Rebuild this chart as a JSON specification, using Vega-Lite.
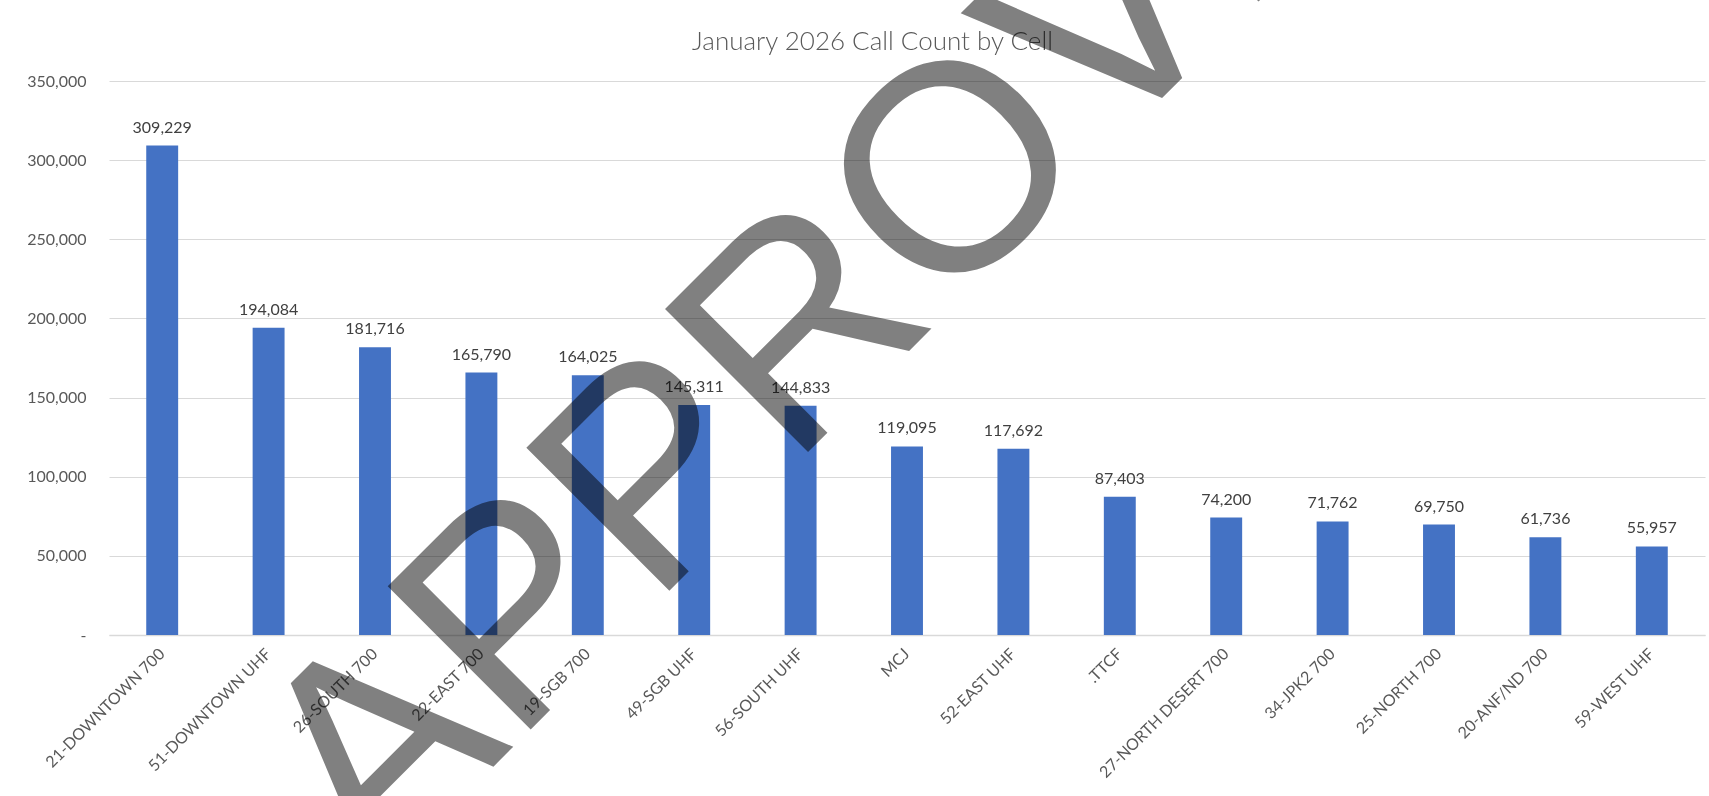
{
  "$schema": "https://vega.github.io/schema/vega-lite/v6.json",
  "width": 1596,
  "height": 554,
  "autosize": {"type": "none"},
  "padding": {"left": 109, "top": 81, "right": 4, "bottom": 161},
  "background": "#ffffff",
  "config": {
    "view": {"stroke": null},
    "axis": {"labelFont": "Lato", "labelFontSize": 16, "labelColor": "#595959", "titleFont": "Lato"}
  },
  "resolve": {"axis": {"x": "independent"}},
  "data": {
    "values": [
      {"cell": "21-DOWNTOWN 700", "calls": 309229},
      {"cell": "51-DOWNTOWN UHF", "calls": 194084},
      {"cell": "26-SOUTH 700", "calls": 181716},
      {"cell": "22-EAST 700", "calls": 165790},
      {"cell": "19-SGB 700", "calls": 164025},
      {"cell": "49-SGB UHF", "calls": 145311},
      {"cell": "56-SOUTH UHF", "calls": 144833},
      {"cell": "MCJ", "calls": 119095},
      {"cell": "52-EAST UHF", "calls": 117692},
      {"cell": ".TTCF", "calls": 87403},
      {"cell": "27-NORTH DESERT 700", "calls": 74200},
      {"cell": "34-JPK2 700", "calls": 71762},
      {"cell": "25-NORTH 700", "calls": 69750},
      {"cell": "20-ANF/ND 700", "calls": 61736},
      {"cell": "59-WEST UHF", "calls": 55957}
    ]
  },
  "encoding": {
    "y": {
      "field": "calls",
      "type": "quantitative",
      "scale": {"domain": [0, 350000], "nice": false},
      "axis": {
        "title": null,
        "values": [0, 50000, 100000, 150000, 200000, 250000, 300000, 350000],
        "labelExpr": "datum.value === 0 ? '-\u00a0\u00a0\u00a0\u00a0\u00a0\u00a0\u00a0' : format(datum.value, ',')",
        "ticks": false,
        "domain": false,
        "grid": true,
        "gridColor": "#d9d9d9",
        "gridWidth": 1.2,
        "labelPadding": 23
      }
    }
  },
  "layer": [
    {
      "mark": {"type": "bar", "color": "#4472C4"},
      "encoding": {
        "x": {
          "field": "cell",
          "type": "nominal",
          "sort": null,
          "scale": {"paddingInner": 0.7, "paddingOuter": 0.35},
          "axis": {
            "orient": "bottom",
            "title": null,
            "labelAngle": -45,
            "labelAlign": "right",
            "labelBaseline": "middle",
            "labelPadding": 16,
            "ticks": false,
            "domain": true,
            "domainColor": "#d9d9d9",
            "domainWidth": 1.5,
            "grid": false
          }
        }
      }
    },
    {
      "mark": {"type": "text", "font": "Lato", "fontSize": 16, "color": "#404040", "baseline": "alphabetic", "dy": -13},
      "encoding": {
        "x": {
          "field": "cell",
          "type": "nominal",
          "sort": null,
          "scale": {"paddingInner": 0.7, "paddingOuter": 0.35},
          "axis": {
            "orient": "top",
            "title": "January 2026 Call Count by Cell",
            "titleFont": "Lato",
            "titleFontSize": 26,
            "titleFontWeight": 300,
            "titleColor": "#595959",
            "titleX": 763,
            "titleAlign": "center",
            "titlePadding": 27,
            "labels": false,
            "ticks": false,
            "domain": false,
            "grid": false
          }
        },
        "text": {"field": "calls", "type": "quantitative", "format": ","}
      }
    },
    {
      "data": {"values": [{"label": "APPROVED", "cell": "26-SOUTH 700", "pos": -158000}]},
      "mark": {
        "type": "text",
        "font": "Liberation Sans",
        "fontSize": 294,
        "color": "#808080",
        "blend": "multiply",
        "align": "left",
        "baseline": "alphabetic",
        "angle": -45
      },
      "encoding": {
        "x": {"field": "cell", "type": "nominal", "sort": null, "axis": null},
        "y": {"field": "pos", "type": "quantitative"},
        "text": {"field": "label"}
      }
    }
  ]
}
